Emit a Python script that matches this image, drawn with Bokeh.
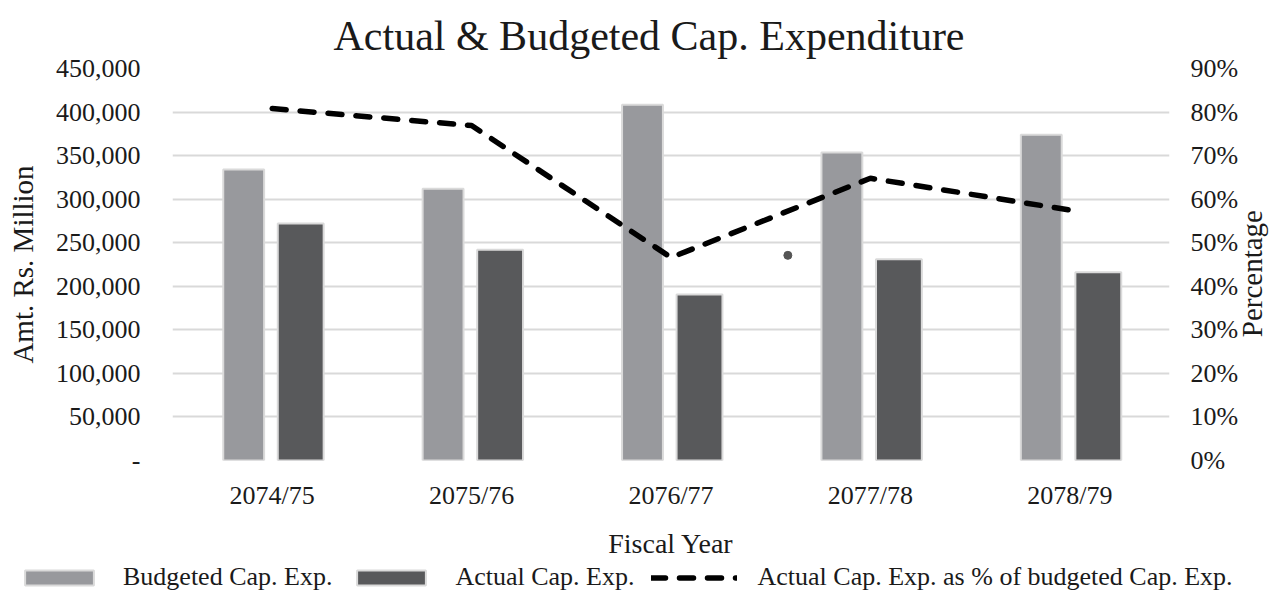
import math
from bokeh.plotting import figure
from bokeh.models import (Range1d, LinearAxis, FixedTicker, NumeralTickFormatter,
                          PrintfTickFormatter, Legend, LegendItem, ColumnDataSource)
from bokeh.transform import dodge
from bokeh.embed import file_html
from bokeh.resources import INLINE

# ---- data ----
years = ["2074/75", "2075/76", "2076/77", "2077/78", "2078/79"]
budgeted = [334000, 312000, 408500, 353500, 374000]
actual = [272000, 242000, 190500, 231000, 216000]
pct_of_budget = [80.8, 76.9, 46.6, 64.8, 57.5]
amount_ticks = [0, 50000, 100000, 150000, 200000, 250000, 300000, 350000, 400000, 450000]
pct_ticks = [0, 10, 20, 30, 40, 50, 60, 70, 80, 90]
stray_year = ["2077/78"]
stray_pct = [47.1]
legend_labels = ["Budgeted Cap. Exp.", "Actual Cap. Exp.",
                 "Actual Cap. Exp. as % of budgeted Cap. Exp."]

FONT = "Liberation Serif"
TXT = "#1a1a1a"
C_BUD = "#98999d"
C_ACT = "#58595b"
C_EDGE = "#dadada"

src = ColumnDataSource(dict(year=years, budgeted=budgeted, actual=actual, pct=pct_of_budget))

p = figure(x_range=years, y_range=Range1d(0, 450000), width=1287, height=562,
           output_backend="svg", toolbar_location=None,
           min_border_left=172, min_border_right=117, min_border_top=68, min_border_bottom=102)
p.extra_y_ranges = {"pct": Range1d(0, 90)}
p.x_range.range_padding = 0

p.title.text = "Actual & Budgeted Cap. Expenditure"
p.title.align = "left"
p.title.offset = 161
p.title.standoff = 20
p.title.text_font = FONT
p.title.text_font_size = "42px"
p.title.text_font_style = "normal"
p.title.text_color = TXT

p.outline_line_color = None
p.xgrid.grid_line_color = None
p.ygrid.grid_line_color = "#d9d9d9"
p.ygrid.grid_line_width = 2
p.background_fill_color = "white"


def style_axis(ax, label_size):
    ax.axis_line_color = None
    ax.major_tick_line_color = None
    ax.minor_tick_line_color = None
    ax.major_tick_out = 0
    ax.major_tick_in = 0
    ax.minor_tick_out = 0
    ax.minor_tick_in = 0
    ax.major_label_text_font = FONT
    ax.major_label_text_font_size = "26px"
    ax.major_label_text_color = TXT
    ax.axis_label_text_font = FONT
    ax.axis_label_text_font_size = label_size
    ax.axis_label_text_font_style = "normal"
    ax.axis_label_text_color = TXT


# left axis
ya = p.yaxis[0]
style_axis(ya, "29px")
ya.ticker = FixedTicker(ticks=amount_ticks)
ya.formatter = NumeralTickFormatter(format="0,0")
ya.major_label_overrides = {0: "-"}
ya.major_label_standoff = 32
ya.axis_label = "Amt. Rs. Million"
ya.axis_label_standoff = 14

# right axis (label reads bottom-to-top; anchored at the axis start and padded
# with no-break spaces so that it sits centred beside the axis)
ra = LinearAxis(y_range_name="pct", ticker=FixedTicker(ticks=pct_ticks),
                formatter=PrintfTickFormatter(format="%d%%"))
style_axis(ra, "29px")
ra.major_label_standoff = 21
ra.axis_label = "\u00a0" * 17 + "Percentage"
ra.axis_label_standoff = 11
ra.axis_label_text_line_height = 0.9
ra.axis_label_orientation = math.pi / 2
ra.axis_label_align = "start"
p.add_layout(ra, "right")

# x axis
xa = p.xaxis[0]
style_axis(xa, "28px")
xa.major_label_standoff = 20
xa.axis_label = "Fiscal Year"
xa.axis_label_standoff = 15

p.vbar(x=dodge("year", -0.143, range=p.x_range), top="budgeted", width=0.205,
       fill_color=C_BUD, line_color=C_EDGE, line_width=2, source=src)
p.vbar(x=dodge("year", 0.143, range=p.x_range), top="actual", width=0.23,
       fill_color=C_ACT, line_color=C_EDGE, line_width=2, source=src)
p.line(x="year", y="pct", y_range_name="pct", line_color="black", line_width=5.5,
       line_dash="14 14", line_cap="round", source=src)
p.scatter(x=dodge("x", -0.414, range=p.x_range), y="y", y_range_name="pct", size=8,
          color="#555555", source=ColumnDataSource(dict(x=stray_year, y=stray_pct)))

# ---- legend strip: a second root holding the same series (hidden renderers),
# so the legend is not clipped by the plot frame ----
lg = figure(width=1287, height=30, output_backend="svg", toolbar_location=None,
            x_range=years, y_range=Range1d(-2, -1),
            x_axis_location=None, y_axis_location=None,
            min_border_left=0, min_border_right=0, min_border_top=0, min_border_bottom=0)
lg.outline_line_color = None
lg.grid.grid_line_color = None
lb = lg.vbar(x="year", top="budgeted", width=0.2, fill_color=C_BUD, line_color=C_EDGE,
             line_width=2, source=src, visible=False)
la = lg.vbar(x="year", top="actual", width=0.2, fill_color=C_ACT, line_color=C_EDGE,
             line_width=2, source=src, visible=False)
ll = lg.line(x="year", y="pct", line_color="black", line_width=5.5, line_dash="14 14",
             line_cap="round", source=src, visible=False)
legend = Legend(items=[LegendItem(label=legend_labels[0], renderers=[lb]),
                       LegendItem(label=legend_labels[1], renderers=[la]),
                       LegendItem(label=legend_labels[2], renderers=[ll])],
                orientation="horizontal", location=(16, 0), click_policy="none",
                glyph_width=86, glyph_height=19, label_standoff=21, spacing=16,
                padding=0, margin=0, border_line_color=None, background_fill_alpha=0,
                label_text_font=FONT, label_text_font_size="26px", label_text_color=TXT)
lg.add_layout(legend)

open("out.html", "w").write(file_html([p, lg], INLINE))
